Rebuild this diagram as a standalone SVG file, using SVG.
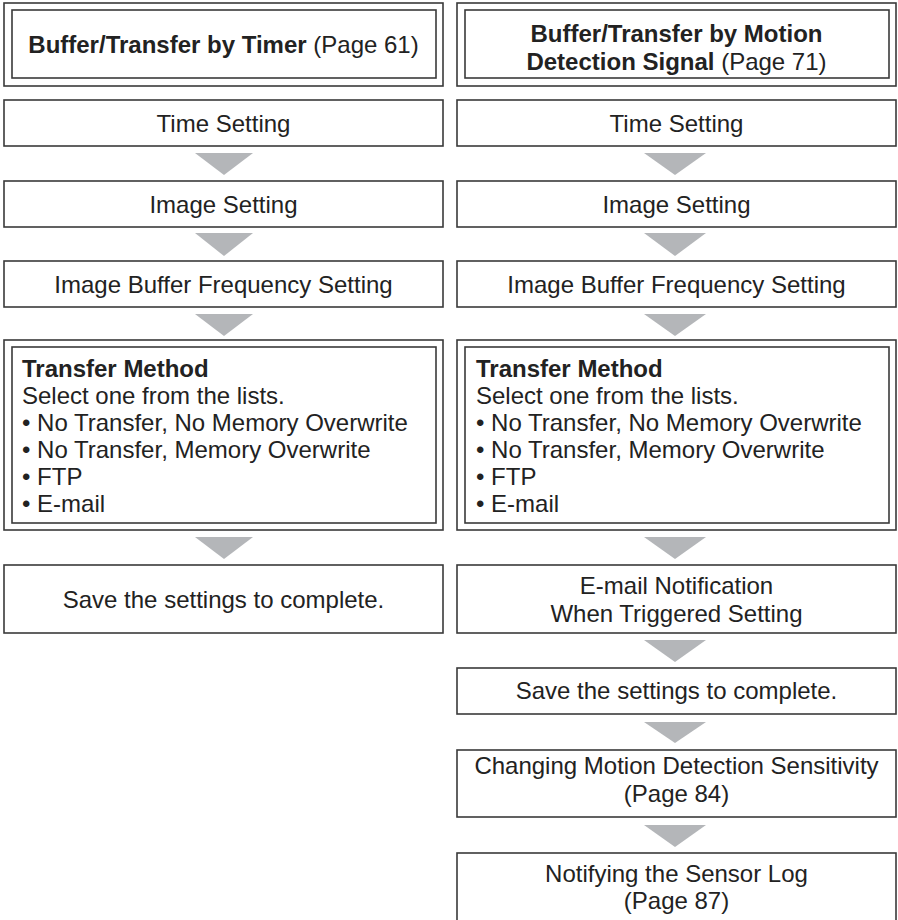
<svg xmlns="http://www.w3.org/2000/svg" width="898" height="920" viewBox="0 0 898 920">
<style>
.box{fill:#fff;stroke:#3a3a3a;stroke-width:1.6}
.t{font-family:"Liberation Sans",Arial,sans-serif;font-size:24px;fill:#222}
.c{text-anchor:middle}
.b{font-weight:bold}
.arr{fill:#b4b6b9}
</style>
<rect x="0" y="0" width="898" height="920" fill="#fff"/>
<g id="L_title">
<rect class="box" x="4" y="3" width="439" height="83"/>
<rect class="box" x="12" y="10" width="424" height="68"/>
<text class="t c" x="223.5" y="53"><tspan class="b">Buffer/Transfer by Timer</tspan> (Page 61)</text>
</g>
<g id="L_time"><rect class="box" x="4" y="100" width="439" height="46"/><text class="t c" x="223.5" y="131.5">Time Setting</text></g>
<g id="L_image"><rect class="box" x="4" y="181" width="439" height="46"/><text class="t c" x="223.5" y="212.5">Image Setting</text></g>
<g id="L_buffer"><rect class="box" x="4" y="261" width="439" height="46"/><text class="t c" x="223.5" y="292.5">Image Buffer Frequency Setting</text></g>
<g id="L_transfer">
<rect class="box" x="4" y="340" width="439" height="190"/>
<rect class="box" x="12" y="347" width="424" height="176"/>
<text class="t" x="22" y="376.5"><tspan class="b">Transfer Method</tspan><tspan x="22" dy="27">Select one from the lists.</tspan><tspan x="22" dy="27">• No Transfer, No Memory Overwrite</tspan><tspan x="22" dy="27">• No Transfer, Memory Overwrite</tspan><tspan x="22" dy="27">• FTP</tspan><tspan x="22" dy="27">• E-mail</tspan></text>
</g>
<g id="L_save"><rect class="box" x="4" y="565" width="439" height="68"/><text class="t c" x="223.5" y="607.5">Save the settings to complete.</text></g>

<g id="R_title">
<rect class="box" x="457" y="3" width="439" height="83"/>
<rect class="box" x="465" y="10" width="424" height="68"/>
<text class="t c b" x="676.5" y="42">Buffer/Transfer by Motion</text>
<text class="t c" x="676.5" y="69.5"><tspan class="b">Detection Signal</tspan> (Page 71)</text>
</g>
<g id="R_time"><rect class="box" x="457" y="100" width="439" height="46"/><text class="t c" x="676.5" y="131.5">Time Setting</text></g>
<g id="R_image"><rect class="box" x="457" y="181" width="439" height="46"/><text class="t c" x="676.5" y="212.5">Image Setting</text></g>
<g id="R_buffer"><rect class="box" x="457" y="261" width="439" height="46"/><text class="t c" x="676.5" y="292.5">Image Buffer Frequency Setting</text></g>
<g id="R_transfer">
<rect class="box" x="457" y="340" width="439" height="190"/>
<rect class="box" x="465" y="347" width="424" height="176"/>
<text class="t" x="476" y="376.5"><tspan class="b">Transfer Method</tspan><tspan x="476" dy="27">Select one from the lists.</tspan><tspan x="476" dy="27">• No Transfer, No Memory Overwrite</tspan><tspan x="476" dy="27">• No Transfer, Memory Overwrite</tspan><tspan x="476" dy="27">• FTP</tspan><tspan x="476" dy="27">• E-mail</tspan></text>
</g>
<g id="R_email"><rect class="box" x="457" y="565" width="439" height="68"/><text class="t c" x="676.5" y="594">E-mail Notification</text><text class="t c" x="676.5" y="621.5">When Triggered Setting</text></g>
<g id="R_save"><rect class="box" x="457" y="668" width="439" height="46"/><text class="t c" x="676.5" y="699">Save the settings to complete.</text></g>
<g id="R_sens"><rect class="box" x="457" y="750" width="439" height="67"/><text class="t c" x="676.5" y="774">Changing Motion Detection Sensitivity</text><text class="t c" x="676.5" y="801.5">(Page 84)</text></g>
<g id="R_log"><rect class="box" x="457" y="853" width="439" height="75"/><text class="t c" x="676.5" y="882">Notifying the Sensor Log</text><text class="t c" x="676.5" y="909">(Page 87)</text></g>

<g id="connectors">
<polygon class="arr" points="195,153 253,153 224,175"/>
<polygon class="arr" points="195,233 253,233 224,256"/>
<polygon class="arr" points="195,314 253,314 224,336"/>
<polygon class="arr" points="195,537 253,537 224,559"/>
<polygon class="arr" points="644,153 706,153 675,175"/>
<polygon class="arr" points="644,233 706,233 675,256"/>
<polygon class="arr" points="644,314 706,314 675,336"/>
<polygon class="arr" points="644,537 706,537 675,559"/>
<polygon class="arr" points="644,640 706,640 675,662"/>
<polygon class="arr" points="644,722 706,722 675,743"/>
<polygon class="arr" points="644,825 706,825 675,847"/>
</g>
</svg>
